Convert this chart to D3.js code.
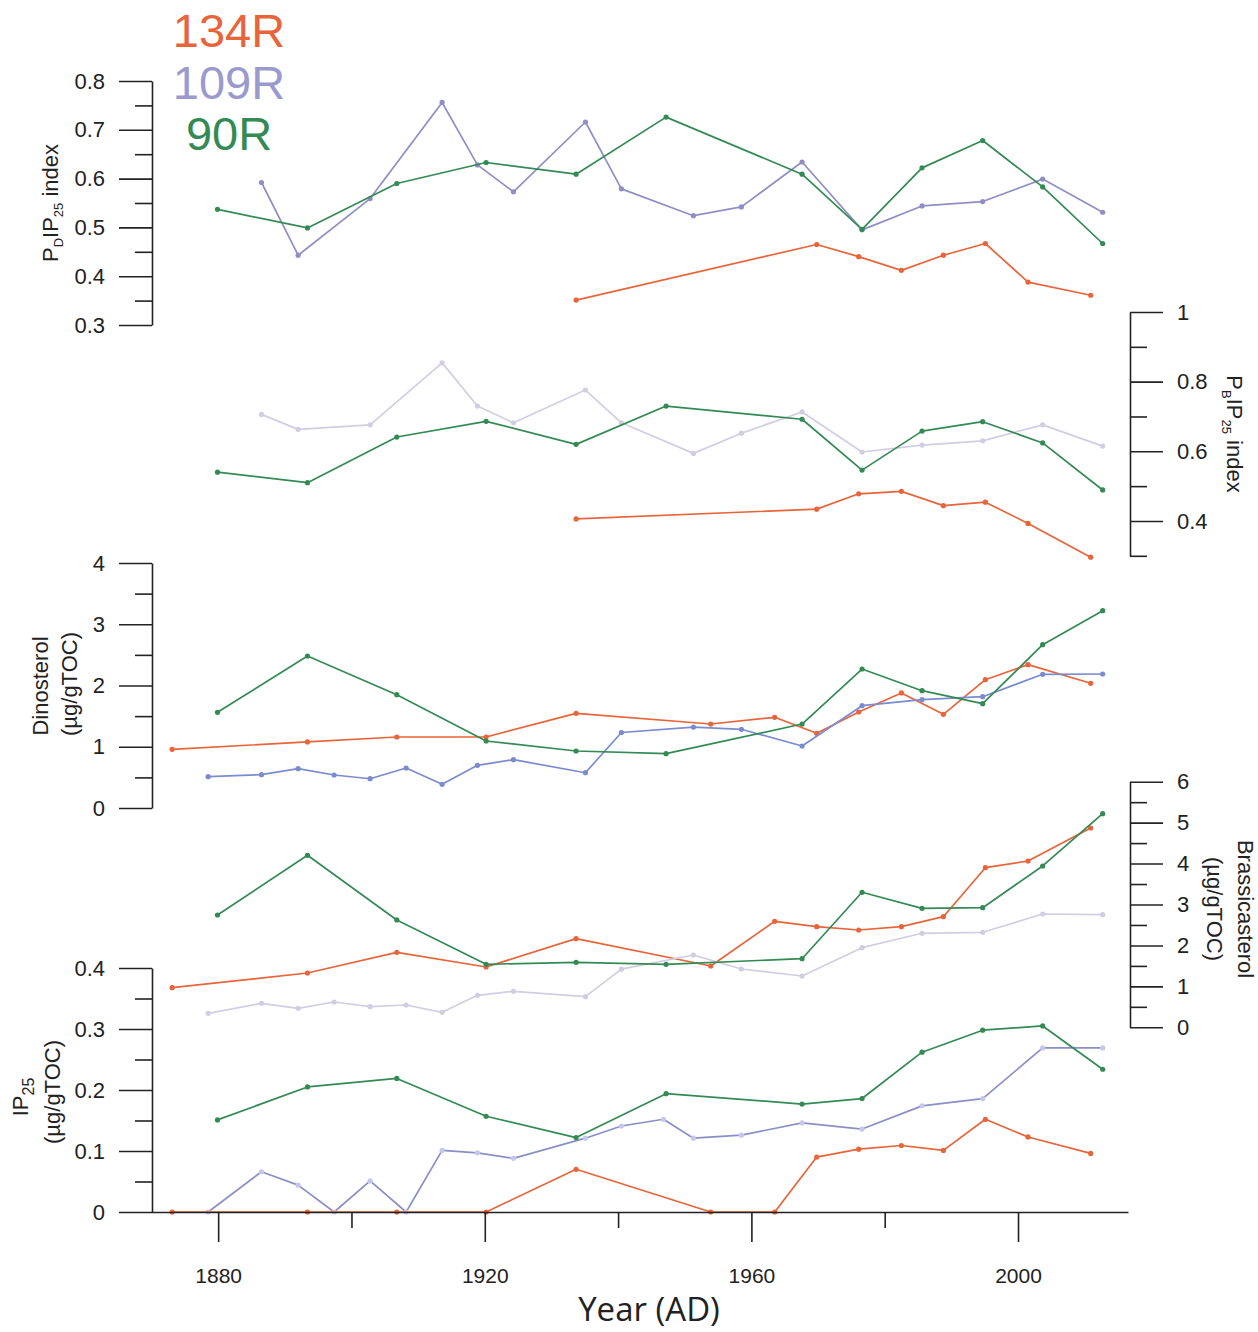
<!DOCTYPE html>
<html><head><meta charset="utf-8">
<script src="https://cdn.jsdelivr.net/npm/d3@7"></script>
<style>body{margin:0;background:#fff}</style>
</head><body><svg id="c" width="1258" height="1332"></svg>
<script>
// ---------- DATA ----------
const cores = ["134R", "109R", "90R"];
const years134 = [1873.1, 1893.4, 1906.8, 1920.2, 1933.7, 1953.9, 1963.5, 1969.8, 1976.1, 1982.5, 1988.8, 1995.1, 2001.5, 2010.9];
const years109 = [1878.5, 1886.5, 1892.0, 1897.4, 1902.8, 1908.2, 1913.6, 1918.9, 1924.3, 1935.1, 1940.5, 1946.8, 1951.3, 1958.5, 1967.6, 1976.6, 1985.6, 1994.7, 2003.7, 2012.7];
const years90  = [1879.9, 1893.4, 1906.8, 1920.2, 1933.7, 1947.2, 1967.6, 1976.6, 1985.6, 1994.7, 2003.7, 2012.7];

const pdip134 = [null, null, null, null, 0.351, null, null, 0.465, 0.440, 0.412, 0.443, 0.467, 0.388, 0.361];
const pdip109 = [null, 0.592, 0.443, null, 0.559, null, 0.756, 0.628, 0.573, 0.716, 0.579, null, 0.524, 0.542, 0.634, 0.495, 0.544, 0.553, 0.599, 0.531];
const pdip90  = [0.537, 0.499, 0.590, 0.633, 0.609, 0.726, 0.609, 0.496, 0.622, 0.678, 0.583, 0.467];

const pbip134 = [null, null, null, null, 0.406, null, null, 0.434, 0.478, 0.485, 0.444, 0.454, 0.393, 0.296];
const pbip109 = [null, 0.706, 0.663, null, 0.676, null, 0.854, 0.730, 0.682, 0.776, 0.682, null, 0.594, 0.652, 0.713, 0.598, 0.618, 0.630, 0.676, 0.615];
const pbip90  = [0.540, 0.510, 0.641, 0.686, 0.620, 0.730, 0.692, 0.546, 0.658, 0.685, 0.624, 0.489];

const dino134 = [0.958, 1.078, 1.159, 1.159, 1.546, 1.371, 1.481, 1.220, 1.567, 1.878, 1.530, 2.095, 2.340, 2.036];
const dino109 = [0.511, 0.544, 0.642, 0.539, 0.478, 0.653, 0.387, 0.697, 0.789, 0.576, 1.233, null, 1.322, 1.285, 1.012, 1.670, 1.768, 1.817, 2.183, 2.188];
const dino90  = [1.562, 2.482, 1.850, 1.094, 0.931, 0.887, 1.371, 2.269, 1.915, 1.703, 2.666, 3.221];

const bras134 = [0.967, 1.327, 1.832, 1.473, 2.165, 1.498, 2.590, 2.458, 2.377, 2.458, 2.702, 3.899, 4.063, 4.869];
const bras109 = [0.342, 0.586, 0.464, 0.618, 0.503, 0.545, 0.366, 0.782, 0.880, 0.748, 1.420, null, 1.766, 1.424, 1.253, 1.945, 2.297, 2.321, 2.768, 2.751];
const bras90  = [2.744, 4.202, 2.622, 1.539, 1.588, 1.539, 1.676, 3.298, 2.907, 2.922, 3.941, 5.219];

const ip134 = [0, 0, 0, 0, 0.070, 0, 0, 0.090, 0.103, 0.109, 0.101, 0.152, 0.123, 0.096];
const ip109 = [0, 0.066, 0.044, 0, 0.051, 0, 0.101, 0.097, 0.088, 0.121, 0.141, 0.152, 0.121, 0.126, 0.146, 0.136, 0.174, 0.186, 0.269, 0.269];
const ip90  = [0.151, 0.205, 0.219, 0.157, 0.122, 0.194, 0.177, 0.186, 0.262, 0.298, 0.305, 0.234];

const xTicks = [1880, 1900, 1920, 1940, 1960, 1980, 2000];
const xLabelTicks = [1880, 1920, 1960, 2000];

// ---------- STYLE ----------
const ORANGE = "#e8643a", GREEN = "#348a55", PURPLE = "#8f8fc6", PURPLE_LEG = "#9a9acf",
      BLUEP = "#7b8bd0", LAV = "#d3cde4", IPP = "#8a8fc8", IPP_DOT = "#c6c7ea";
const FONT = "'Liberation Sans', Arial, sans-serif";

const svg = d3.select("#c");
const x = d3.scaleLinear().domain([1870, 2016.5]).range([151.5, 1128]);

const yPD = d3.scaleLinear().domain([0.3, 0.8]).range([325, 81]);
const yPB = d3.scaleLinear().domain([0.3, 1]).range([555.8, 312]);
const yDi = d3.scaleLinear().domain([0, 4]).range([808, 563]);
const yBr = d3.scaleLinear().domain([0, 6]).range([1027.3, 781.7]);
const yIP = d3.scaleLinear().domain([0, 0.4]).range([1212, 968]);

function series(years, vals, y, color, dotColor) {
  const pts = years.map((t, i) => [t, vals[i]]).filter(d => d[1] !== null);
  const g = svg.append("g");
  g.append("path").datum(pts)
    .attr("d", d3.line().x(d => x(d[0])).y(d => y(d[1])))
    .attr("fill", "none").attr("stroke", color).attr("stroke-width", 1.7)
    .attr("stroke-linejoin", "round");
  g.selectAll("circle").data(pts).join("circle")
    .attr("cx", d => x(d[0])).attr("cy", d => y(d[1])).attr("r", 2.6)
    .attr("fill", dotColor || color);
}

function isMult(v, s) { const q = v / s; return Math.abs(q - Math.round(q)) < 1e-6; }

function yAxis(y, side, xPos, step, majorStep) {
  const [lo, hi] = y.domain();
  const vals = d3.range(lo, hi + step / 2, step).map(v => +v.toFixed(4));
  const ax = (side === "left" ? d3.axisLeft(y) : d3.axisRight(y))
    .tickValues(vals).tickSize(33).tickSizeOuter(0).tickPadding(14)
    .tickFormat(v => isMult(v, majorStep) ? d3.format("~g")(v) : "");
  const g = svg.append("g").attr("transform", `translate(${xPos},0)`).call(ax);
  g.selectAll(".tick").filter(v => !isMult(v, majorStep)).select("line")
    .attr("x2", side === "left" ? -17 : 17);
  g.selectAll("line,path").attr("stroke", "#222").attr("stroke-width", 1.6);
  g.selectAll("text").attr("font-family", FONT).attr("font-size", 22).attr("fill", "#222");
  return g;
}

// ---------- SERIES ----------
series(years134, pdip134, yPD, ORANGE);
series(years109, pdip109, yPD, PURPLE);
series(years90, pdip90, yPD, GREEN);

series(years134, pbip134, yPB, ORANGE);
series(years109, pbip109, yPB, LAV);
series(years90, pbip90, yPB, GREEN);

series(years134, dino134, yDi, ORANGE);
series(years109, dino109, yDi, BLUEP);
series(years90, dino90, yDi, GREEN);

series(years134, bras134, yBr, ORANGE);
series(years109, bras109, yBr, LAV);
series(years90, bras90, yBr, GREEN);

series(years109, ip109, yIP, IPP, IPP_DOT);
series(years90, ip90, yIP, GREEN);
series(years134, ip134, yIP, ORANGE);

// ---------- AXES ----------
yAxis(yPD, "left", 152, 0.05, 0.1);
yAxis(yPB, "right", 1130, 0.1, 0.2);
yAxis(yDi, "left", 152, 0.5, 1);
yAxis(yBr, "right", 1130, 0.5, 1);
yAxis(yIP, "left", 152, 0.05, 0.1);

const xa = d3.axisBottom(x).tickValues(xTicks).tickSize(30).tickSizeOuter(0).tickPadding(26)
  .tickFormat(v => xLabelTicks.includes(v) ? String(v) : "");
const gx = svg.append("g").attr("transform", "translate(0,1212)").call(xa);
gx.selectAll(".tick").filter(v => !xLabelTicks.includes(v)).select("line").attr("y2", 16);
gx.selectAll("line,path").attr("stroke", "#222").attr("stroke-width", 1.6);
gx.selectAll("text").attr("font-family", FONT).attr("font-size", 21).attr("fill", "#222");

// ---------- LABELS ----------
function rotLabel(xp, yp, angle, parts, size) {
  const t = svg.append("text").attr("transform", `translate(${xp},${yp}) rotate(${angle})`)
    .attr("text-anchor", "middle").attr("font-family", FONT).attr("font-size", size).attr("fill", "#222");
  parts.forEach(p => {
    const ts = t.append("tspan").text(p.t);
    if (p.sub) ts.attr("font-size", p.subSize || 13).attr("dy", p.dy || 5);
    if (p.back) ts.attr("dy", -(p.back));
  });
  return t;
}
rotLabel(58, 203, -90, [{t: "P"}, {t: "D", sub: true}, {t: "IP", back: 5}, {t: "25", sub: true}, {t: " index", back: 5}], 22);
rotLabel(48, 686, -90, [{t: "Dinosterol"}], 22);
rotLabel(77, 684, -90, [{t: "(µg/gTOC)"}], 22);
rotLabel(28, 1097, -90, [{t: "IP"}, {t: "25", sub: true, subSize: 16, dy: 6}], 22);
rotLabel(60, 1092, -90, [{t: "(µg/gTOC)"}], 22);
rotLabel(1227, 434, 90, [{t: "P"}, {t: "B", sub: true}, {t: "IP", back: 5}, {t: "25", sub: true}, {t: " index", back: 5}], 22);
rotLabel(1238, 909, 90, [{t: "Brassicasterol"}], 22);
rotLabel(1207, 909, 90, [{t: "(µg/gTOC)"}], 22);

svg.append("text").attr("x", 649).attr("y", 1321).attr("text-anchor", "middle")
  .attr("font-family", "'Open Sans', sans-serif").attr("font-size", 33).attr("fill", "#222")
  .text("Year (AD)");

// ---------- LEGEND ----------
const legColors = [ORANGE, PURPLE_LEG, GREEN];
const legY = [47, 99, 150];
svg.selectAll("text.leg").data(cores).join("text").attr("class", "leg")
  .attr("x", 229).attr("y", (d, i) => legY[i]).attr("text-anchor", "middle")
  .attr("font-family", FONT).attr("font-size", 47).attr("fill", (d, i) => legColors[i])
  .text(d => d);
</script>
</body></html>
